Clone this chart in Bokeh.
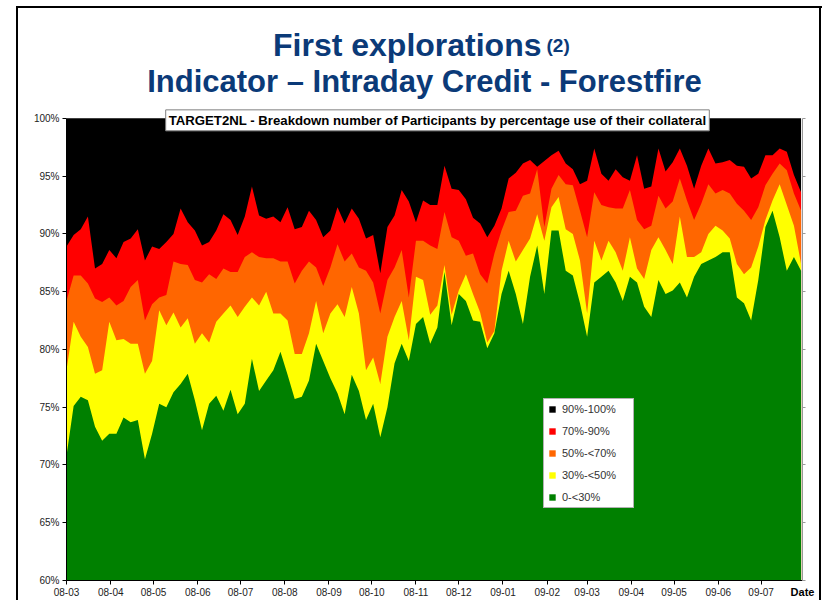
import pandas as pd
from bokeh.plotting import figure
from bokeh.models import (ColumnDataSource, Range1d, FixedTicker, PrintfTickFormatter,
                          MonthsTicker, DatetimeTickFormatter, LinearAxis, Legend,
                          LegendItem, Label)
from bokeh.embed import file_html
from bokeh.resources import INLINE

# ---------------- data (cumulative share of participants, %) ----------------
start_date = "2008-03-01"
end_date = "2009-07-30"
n_points = 104
step = "5D"

top_0_30 = [70.8, 75.1, 75.9, 75.6, 73.3, 72.1, 72.7, 72.7, 74.1, 73.7,
            73.9, 70.5, 72.7, 75.3, 75.0, 76.3, 77.0, 77.9, 75.6, 73.0,
            75.3, 76.0, 74.7, 76.5, 74.4, 75.3, 79.2, 76.4, 77.3, 78.2,
            79.8, 77.8, 75.7, 75.9, 77.3, 80.5, 79.0, 77.5, 76.2, 74.4,
            77.8, 76.4, 73.9, 75.3, 72.4, 75.0, 78.8, 80.5, 79.0, 82.2,
            82.8, 80.5, 81.9, 86.7, 82.1, 84.8, 84.2, 82.5, 82.4, 80.1,
            81.4, 84.8, 86.8, 84.8, 82.2, 86.3, 89.0, 84.8, 90.3, 90.3,
            86.8, 86.4, 84.0, 81.1, 85.8, 86.3, 86.8, 85.8, 84.2, 86.3,
            85.8, 83.7, 82.8, 86.0, 84.8, 85.1, 85.8, 84.5, 86.3, 87.4,
            87.7, 88.0, 88.4, 88.4, 84.5, 84.0, 82.5, 86.0, 90.6, 92.0,
            89.7, 86.8, 88.0, 86.8]

top_30_50 = [78.2, 82.4, 81.1, 80.2, 77.9, 78.2, 82.4, 80.8, 80.9, 80.5,
             80.5, 77.9, 79.0, 83.4, 82.1, 83.2, 81.9, 82.7, 80.5, 81.4,
             80.6, 82.4, 83.1, 83.8, 82.8, 83.7, 84.5, 83.8, 85.0, 83.1,
             83.1, 82.5, 79.6, 79.6, 81.4, 84.2, 81.4, 83.1, 83.9, 82.8,
             85.4, 83.1, 78.2, 79.3, 77.0, 81.1, 82.8, 84.2, 80.8, 86.3,
             86.0, 83.0, 83.8, 87.3, 83.0, 85.1, 86.5, 84.8, 83.2, 80.6,
             81.6, 86.8, 89.4, 87.6, 88.6, 89.6, 91.7, 89.4, 92.3, 93.2,
             90.4, 90.0, 87.7, 83.1, 89.4, 87.7, 89.4, 88.4, 86.8, 89.7,
             87.0, 86.1, 88.6, 89.7, 88.6, 87.4, 91.5, 88.0, 88.0, 88.4,
             90.0, 90.7, 90.3, 89.6, 87.4, 86.5, 87.1, 88.9, 91.2, 92.9,
             94.3, 92.5, 90.7, 87.4]

top_50_70 = [84.2, 86.4, 86.4, 85.7, 84.4, 84.1, 84.5, 83.8, 84.2, 85.4,
             86.0, 82.5, 83.9, 84.5, 84.7, 87.6, 87.4, 87.3, 86.0, 85.8,
             86.5, 86.1, 87.0, 86.7, 86.7, 88.0, 88.4, 88.0, 87.9, 87.9,
             87.6, 87.6, 85.7, 86.8, 87.6, 87.1, 85.5, 87.1, 89.1, 87.6,
             88.3, 87.1, 86.8, 85.8, 83.1, 86.0, 87.1, 88.6, 84.5, 89.4,
             89.4, 89.0, 88.7, 91.9, 89.7, 89.4, 88.1, 88.3, 86.5, 85.7,
             88.3, 90.3, 91.9, 92.0, 93.3, 93.5, 95.6, 90.6, 93.9, 95.1,
             94.3, 94.2, 92.0, 89.7, 93.6, 92.5, 92.3, 92.2, 92.2, 93.8,
             91.2, 90.4, 90.7, 93.3, 92.2, 92.8, 94.8, 92.9, 91.2, 92.6,
             94.3, 93.5, 93.8, 93.5, 92.6, 92.0, 91.2, 92.3, 94.2, 95.2,
             96.1, 95.5, 93.5, 92.0]

top_70_90 = [88.9, 89.9, 90.4, 91.5, 87.0, 87.4, 88.6, 87.9, 89.3, 89.6,
             90.4, 87.7, 88.9, 88.7, 89.3, 90.0, 92.2, 91.0, 90.3, 89.0,
             89.3, 90.3, 91.7, 91.2, 89.9, 91.5, 94.1, 91.6, 91.3, 91.5,
             91.0, 92.3, 90.4, 90.6, 92.0, 91.2, 89.7, 90.3, 92.3, 90.9,
             92.2, 91.3, 89.6, 89.9, 86.6, 90.6, 91.6, 93.8, 92.8, 91.0,
             92.9, 92.5, 92.5, 95.9, 93.9, 93.8, 93.0, 91.4, 90.9, 89.7,
             90.7, 92.2, 94.8, 95.3, 96.1, 96.4, 95.8, 96.3, 96.8, 97.2,
             96.1, 95.6, 94.3, 94.6, 97.4, 95.2, 94.6, 95.6, 94.9, 94.6,
             96.8, 93.9, 94.1, 97.4, 95.4, 96.2, 97.4, 95.9, 93.9, 95.9,
             97.4, 96.1, 96.2, 96.4, 95.9, 95.8, 94.8, 95.2, 96.8, 96.8,
             97.4, 97.1, 95.1, 93.6]

total_pct = 100
categories = ["90%-100%", "70%-90%", "50%-<70%", "30%-<50%", "0-<30%"]
colors = ["#000000", "#FF0000", "#FF6600", "#FFFF00", "#008000"]
y_ticks = [60, 65, 70, 75, 80, 85, 90, 95, 100]
y_min, y_max = 60, 100
y_view_top = 110.2   # white headroom above 100% that holds the titles

title_line1 = "First explorations"
title_line1_small = "(2)"
title_line2 = "Indicator \u2013 Intraday Credit - Forestfire"
chart_caption = "TARGET2NL - Breakdown number of Participants by percentage use of their collateral"
x_label = "Date"

# ---------------- build ----------------
dates = pd.date_range(start_date, periods=n_points, freq=step)
source = ColumnDataSource(dict(
    date=dates,
    base=[y_min] * n_points,
    c90=[total_pct] * n_points,
    c70=top_70_90,
    c50=top_50_70,
    c30=top_30_50,
    c0=top_0_30,
))

slide_border = ("linear-gradient(#000,#000) 16px 6px / 2px 600px no-repeat, "
                "linear-gradient(#000,#000) 16px 6px / 806px 2px no-repeat, "
                "linear-gradient(#000,#000) 819px 6px / 2px 600px no-repeat, #ffffff")

p = figure(width=823, height=600, x_axis_type="datetime",
           output_backend="svg", toolbar_location=None,
           x_range=Range1d(pd.Timestamp(start_date), pd.Timestamp(end_date)),
           y_range=Range1d(y_min, y_view_top),
           min_border_left=66, min_border_right=21,
           min_border_top=0, min_border_bottom=20,
           styles={"background": slide_border})
p.outline_line_color = None
p.background_fill_alpha = 0
p.border_fill_alpha = 0
p.xgrid.visible = False
p.ygrid.visible = False

renderers = []
for col, color in zip(["c90", "c70", "c50", "c30", "c0"], colors):
    r = p.varea(x="date", y1="base", y2=col, source=source,
                fill_color=color, fill_alpha=1.0)
    renderers.append(r)

# axes
font = "Liberation Sans"
yax = p.yaxis[0]
yax.bounds = (y_min, y_max)
yax.ticker = FixedTicker(ticks=y_ticks)
yax.formatter = PrintfTickFormatter(format="%d%%")
yax.major_label_text_font = font
yax.major_label_text_font_size = "10px"
yax.major_label_text_color = "#222222"
yax.axis_line_color = "black"
yax.major_tick_line_color = "black"
yax.major_tick_out = 4
yax.major_tick_in = 0
yax.minor_tick_line_color = None
yax.major_label_standoff = 3

xax = p.xaxis[0]
xax.ticker = MonthsTicker(months=list(range(12)))
xax.formatter = DatetimeTickFormatter(months="%y-%m", days="%y-%m", years="%y-%m")
xax.major_label_text_font = font
xax.major_label_text_font_size = "10px"
xax.major_label_text_color = "#222222"
xax.axis_line_color = "black"
xax.major_tick_line_color = "black"
xax.major_tick_out = 4
xax.major_tick_in = 0
xax.minor_tick_line_color = None
xax.major_label_standoff = 3
xax.axis_label = x_label
xax.axis_label_text_font = font
xax.axis_label_text_font_size = "11px"
xax.axis_label_text_font_style = "bold"
xax.axis_label_text_color = "black"
xax.axis_label_standoff = -13
if "axis_label_align" in xax.properties():
    xax.axis_label_align = "end"

# plain tick marks along the right edge (no labels)
right_axis = LinearAxis(ticker=FixedTicker(ticks=y_ticks), bounds=(y_min, y_max),
                        major_label_text_font_size="1px",
                        major_label_text_color=None,
                        axis_line_color="#999999", major_tick_line_color="#999999",
                        major_tick_out=3, major_tick_in=0,
                        minor_tick_line_color=None)
p.add_layout(right_axis, "right")

# legend
items = [LegendItem(label=lab, renderers=[r]) for lab, r in zip(categories, renderers)]
legend = Legend(items=items, location=(477, 72), orientation="vertical",
                glyph_width=8, glyph_height=8, label_height=12, label_width=67,
                spacing=10, padding=4, margin=0, label_standoff=6,
                label_text_font=font, label_text_font_size="11px",
                label_text_color="#333333",
                border_line_color="#666666", border_line_width=1,
                background_fill_color="white", background_fill_alpha=1.0)
p.add_layout(legend, "center")

# texts (placed relative to the top-left corner of the data area)
x0 = pd.Timestamp(start_date).value / 1e6
navy = "#0b3a78"
title_font = "Liberation Sans"
p.add_layout(Label(x=x0, y=y_max, x_offset=475, y_offset=73, text=title_line1,
                   text_align="right", text_baseline="alphabetic",
                   text_font=title_font, text_font_size="32px",
                   text_font_style="bold", text_color=navy))
p.add_layout(Label(x=x0, y=y_max, x_offset=480, y_offset=73, text=title_line1_small,
                   text_align="left", text_baseline="alphabetic",
                   text_font=title_font, text_font_size="19px",
                   text_font_style="bold", text_color=navy))
p.add_layout(Label(x=x0, y=y_max, x_offset=358, y_offset=37, text=title_line2,
                   text_align="center", text_baseline="alphabetic",
                   text_font=title_font, text_font_size="31px",
                   text_font_style="bold", text_color=navy))
p.add_layout(Label(x=x0, y=y_max, x_offset=371, y_offset=-2, text=chart_caption,
                   text_align="center", text_baseline="middle",
                   text_font=font, text_font_size="13.2px",
                   text_font_style="bold", text_color="black",
                   background_fill_color="white", background_fill_alpha=1.0,
                   border_line_color="#808080", border_line_width=1,
                   padding=3))

open("out.html", "w").write(file_html(p, INLINE))
